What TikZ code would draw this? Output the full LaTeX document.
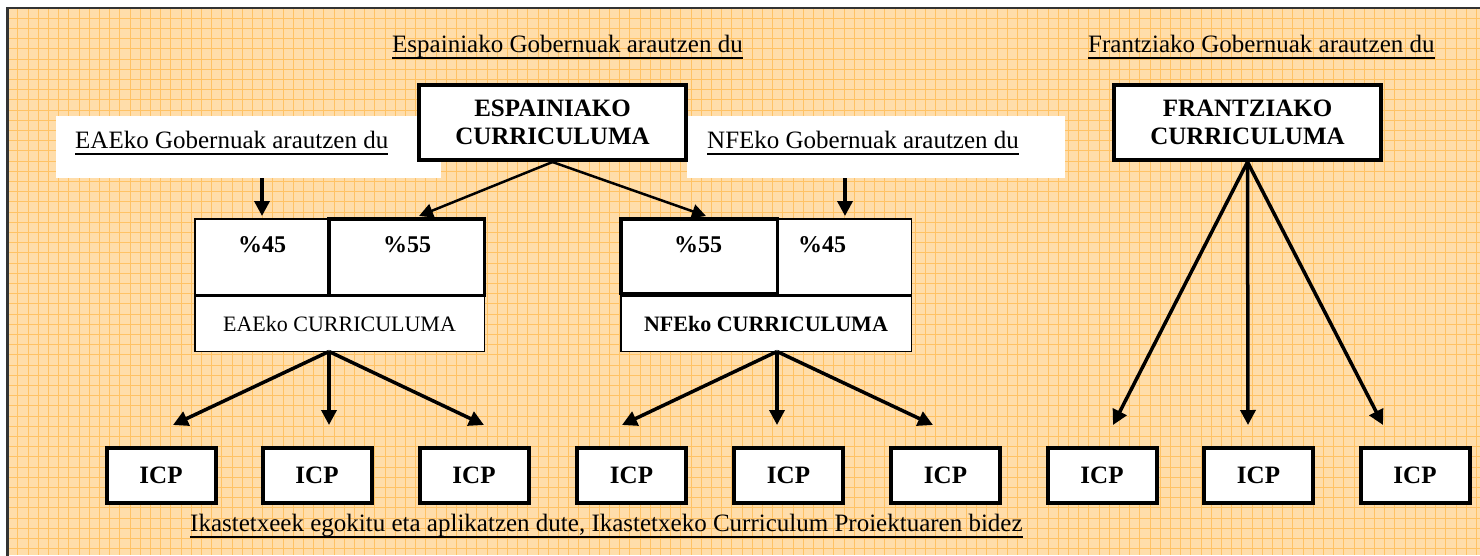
\documentclass[tikz,border=0pt]{standalone}
\usepackage{fontspec}
\setmainfont{Liberation Serif}
\usetikzlibrary{arrows.meta}
\definecolor{bgfill}{HTML}{FFDDAA}
\definecolor{gridc}{HTML}{FFC265}
\definecolor{framec}{HTML}{333333}
\begin{document}
\begin{tikzpicture}[x=1pt,y=-1pt,
  txt/.style={inner sep=0pt, font=\fontsize{25}{30}\selectfont},
  uline/.style={line width=2pt},
  bigbox/.style={draw, line width=4pt, fill=white, minimum width=267pt, minimum height=75pt, align=center, font=\bfseries\fontsize{25}{28}\selectfont, inner sep=0pt},
  icpbox/.style={draw, line width=4pt, fill=white, minimum width=109pt, minimum height=55pt, inner sep=0pt, font=\bfseries\fontsize{25}{30}\selectfont},
  thincell/.style={draw, line width=1.5pt, fill=white, inner sep=0pt},
  thickcell/.style={draw, line width=3.5pt, fill=white, inner sep=0pt},
  whitebg/.style={fill=white, inner sep=0pt},
  pct/.style={inner sep=0pt, font=\bfseries\fontsize{24}{28}\selectfont},
  arr/.style={-{Triangle[length=15pt,width=15pt]}, line width=3.5pt},
  thinarr/.style={-{Triangle[length=14pt,width=14pt]}, line width=2.5pt},
  gridline/.style={draw=gridc, line width=0.8pt},
]
\useasboundingbox (0,0) rectangle (1480,555);
\fill[white] (0,0) rectangle (1480,555);
% background grid
\fill[bgfill] (7,8) rectangle (1480,555);
\path[gridline] foreach \i in {1,...,144} {({7.5+10.2*\i},8) -- ({7.5+10.2*\i},555)};
\path[gridline] foreach \j in {1,...,54} {(7,{8+10.2*\j}) -- (1480,{8+10.2*\j})};
% frame
\draw[framec, line width=2.5pt] (7.5,556) -- (7.5,8) -- (1481,8);

% white label backgrounds
\node[whitebg, minimum width=385pt, minimum height=62pt] (eaeg) at (248.5,147) {};
\node[whitebg, minimum width=378pt, minimum height=62pt] (nfeg) at (876,147) {};

% top captions
\node[txt, anchor=base west] (esplbl) at (392,52) {Espainiako Gobernuak arautzen du};
\draw[uline] ([yshift=-5.5pt]esplbl.base west) -- ([yshift=-5.5pt]esplbl.base east);
\node[txt, anchor=base west] (fralbl) at (1088,52) {Frantziako Gobernuak arautzen du};
\draw[uline] ([yshift=-5.5pt]fralbl.base west) -- ([yshift=-5.5pt]fralbl.base east);
\node[txt, anchor=base west] (eaelbl) at (75,148) {EAEko Gobernuak arautzen du};
\draw[uline] ([yshift=-5.5pt]eaelbl.base west) -- ([yshift=-5.5pt]eaelbl.base east);
\node[txt, anchor=base west] (nfelbl) at (707,148) {NFEko Gobernuak arautzen du};
\draw[uline] ([yshift=-5.5pt]nfelbl.base west) -- ([yshift=-5.5pt]nfelbl.base east);

% main curriculum boxes
\node[bigbox] (esp) at (552.5,122.5) {ESPAINIAKO\\CURRICULUMA};
\node[bigbox] (fra) at (1247.5,122.5) {FRANTZIAKO\\CURRICULUMA};

% EAE composite
\node[thincell, minimum width=289.5pt, minimum height=55.5pt, font=\fontsize{22}{26}\selectfont] (eaec) at (339.5,323.5) {EAEko CURRICULUMA};
\node[thincell, minimum width=132.5pt, minimum height=75.5pt] (eae45) at (261,256.5) {};
\node[thickcell, minimum width=155.5pt, minimum height=76.5pt] (eae55) at (406.5,257) {};
\node[pct] (eae45t) at (262,245) {\%45};
\node[pct] (eae55t) at (407,245) {\%55};

% NFE composite
\node[thincell, minimum width=290.5pt, minimum height=55.5pt, font=\bfseries\fontsize{22}{26}\selectfont] (nfec) at (766,323.5) {NFEko CURRICULUMA};
\node[thincell, minimum width=133.5pt, minimum height=75.5pt] (nfe45) at (844.5,256.5) {};
\node[thickcell, minimum width=156.5pt, minimum height=74.5pt] (nfe55) at (699,256) {};
\node[pct] (nfe55t) at (698,245) {\%55};
\node[pct] (nfe45t) at (822,245) {\%45};

% ICP boxes
\foreach \n/\x in {1/161,2/317,3/474,4/631.5,5/788.5,6/945.5,7/1102,8/1258.5,9/1415}
  \node[icpbox] (icp\n) at (\x,475.5) {ICP};

% arrow tips
\coordinate (teaev) at (262,216);
\coordinate (tnfev) at (845,216);
\coordinate (tesp1) at (419,216);
\coordinate (tesp2) at (706,216);
\coordinate (te1) at (173,425);
\coordinate (te2) at (329,425);
\coordinate (te3) at (484,425);
\coordinate (tn1) at (622,425);
\coordinate (tn2) at (777,425);
\coordinate (tn3) at (933,425);
\coordinate (tf1) at (1113,425);
\coordinate (tf2) at (1248,425);
\coordinate (tf3) at (1383,425);
\coordinate (eaeo) at (329,351.5);
\coordinate (nfeo) at (777,351.5);

% arrows
\draw[arr] (eaeg.south -| teaev) -- (teaev);
\draw[arr] (nfeg.south -| tnfev) -- (tnfev);
\draw[thinarr] (esp.south) -- (tesp1);
\draw[thinarr] (esp.south) -- (tesp2);
\foreach \t in {te1,te2,te3} \draw[arr] (eaeo) -- (\t);
\foreach \t in {tn1,tn2,tn3} \draw[arr] (nfeo) -- (\t);
\foreach \t in {tf1,tf2,tf3} \draw[arr] (fra.south) -- (\t);

% bottom caption
\node[txt, anchor=base west] (botlbl) at (190,531) {Ikastetxeek egokitu eta aplikatzen dute, Ikastetxeko Curriculum Proiektuaren bidez};
\draw[uline] ([yshift=-5.5pt]botlbl.base west) -- ([yshift=-5.5pt]botlbl.base east);
\end{tikzpicture}
\end{document}
